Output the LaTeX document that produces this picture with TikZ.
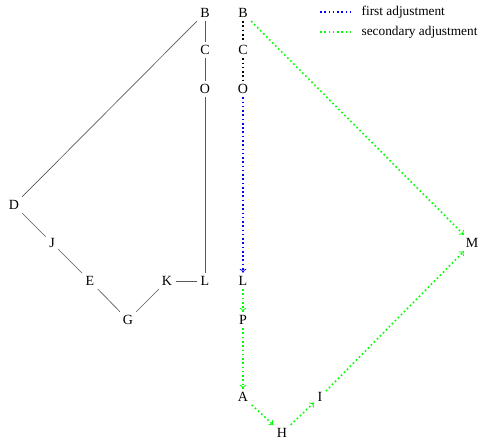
\documentclass[tikz,border=0pt]{standalone}
\usepackage{fontspec}
\setmainfont{Liberation Serif}
\usetikzlibrary{arrows.meta}
\begin{document}
\begin{tikzpicture}[x=0.75pt,y=-0.75pt,
  lbl/.style={font=\fontsize{10.5}{12}\selectfont, inner sep=2.5pt},
  leg/.style={font=\fontsize{10}{12}\selectfont, inner sep=2.5pt, anchor=west},
  tree/.style={draw=black!65, line width=0.5pt},
  dotblack/.style={draw=black, line width=1.2pt, dotted},
  first/.style={draw=blue, line width=1.2pt, dotted, -{To[length=3pt,width=5pt,line width=0.6pt]}},
  second/.style={draw=green, line width=1.2pt, dotted, -{To[length=3pt,width=5pt,line width=0.6pt]}},
  legblue/.style={draw=blue, line width=1.2pt, dotted},
  leggreen/.style={draw=green, line width=1.2pt, dotted}]
\useasboundingbox (0,0) rectangle (478,440);
% left tree
\node[lbl] (lB) at (205,13) {B};
\node[lbl] (lC) at (205,50) {C};
\node[lbl] (lO) at (205,89) {O};
\node[lbl] (lD) at (14,205) {D};
\node[lbl] (lJ) at (52,243) {J};
\node[lbl] (lE) at (90,281) {E};
\node[lbl] (lG) at (128,320) {G};
\node[lbl] (lK) at (167,281) {K};
\node[lbl] (lL) at (205,281) {L};
\draw[tree] (lB) -- (lC);
\draw[tree] (lC) -- (lO);
\draw[tree] (lO) -- (lL);
\draw[tree] (lB) -- (lD);
\draw[tree] (lD) -- (lJ);
\draw[tree] (lJ) -- (lE);
\draw[tree] (lE) -- (lG);
\draw[tree] (lG) -- (lK);
\draw[tree] (lK) -- (lL);
% right tree
\node[lbl] (rB) at (243,13) {B};
\node[lbl] (rC) at (243,50) {C};
\node[lbl] (rO) at (243,89) {O};
\node[lbl] (rL) at (243,281) {L};
\node[lbl] (rP) at (243,320) {P};
\node[lbl] (rA) at (243,397) {A};
\node[lbl] (rH) at (282,433) {H};
\node[lbl] (rI) at (320,397) {I};
\node[lbl] (rM) at (472,243) {M};
\draw[dotblack] (rB) -- (rC);
\draw[dotblack] (rC) -- (rO);
\draw[first] (rO) -- (rL);
\draw[second] (rL) -- (rP);
\draw[second] (rP) -- (rA);
\draw[second] (rA) -- (rH);
\draw[second] (rH) -- (rI);
\draw[second] (rI) -- (rM);
\draw[second] (rB) -- (rM);
% legend
\coordinate (lg1a) at (320,12);
\coordinate (lg1b) at (353,12);
\coordinate (lg2a) at (320,32);
\coordinate (lg2b) at (353,32);
\draw[legblue] (lg1a) -- (lg1b);
\draw[leggreen] (lg2a) -- (lg2b);
\node[leg] (t1) at (358,12) {first adjustment};
\node[leg] (t2) at (358,32) {secondary adjustment};
\end{tikzpicture}
\end{document}
